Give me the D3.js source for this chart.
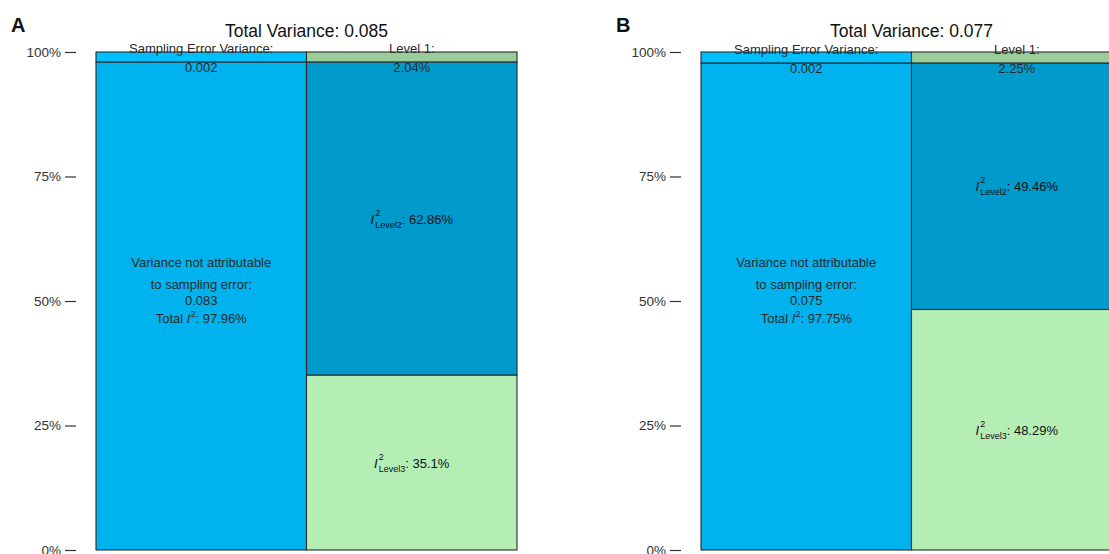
<!DOCTYPE html>
<html>
<head>
<meta charset="utf-8">
<script src="https://cdn.jsdelivr.net/npm/d3@7/dist/d3.min.js"></script>
<style>
  html, body { margin: 0; padding: 0; background: #fff; }
  svg { display: block; font-family: "Liberation Sans", Arial, sans-serif; }
</style>
</head>
<body>
<svg id="chart" width="1109" height="554"></svg>
<script>
// Variance distribution of two three-level meta-analytic models
const panels = ["A", "B"];
const totalVariance = [0.085, 0.077];
const samplingErrorVariance = [0.002, 0.002];
const notAttributableVariance = [0.083, 0.075];
const totalI2 = [97.96, 97.75];
const level1Pct = [2.04, 2.25];
const level2Pct = [62.86, 49.46];
const level3Pct = [35.1, 48.29];
const columns = ["left", "right"];
const yTicks = [0, 25, 50, 75, 100];

const colors = {
  sampling: "#00BFFF",
  notAttr: "#00B2EE",
  level1: "#9BCD9B",
  level2: "#009ACD",
  level3: "#B4EEB4"
};

const svg = d3.select("#chart");
const panelOffset = 605;

const y = d3.scaleLinear().domain([0, 100]).range([550, 52]);
const x = d3.scaleBand().domain(columns).range([96, 517]).paddingInner(0).paddingOuter(0);

panels.forEach((name, i) => {
  const g = svg.append("g").attr("transform", `translate(${i * panelOffset},0)`);

  // stacked segments, top to bottom
  const segments = [
    { col: "left", y0: totalI2[i], y1: 100, fill: colors.sampling },
    { col: "left", y0: 0, y1: totalI2[i], fill: colors.notAttr },
    { col: "right", y0: 100 - level1Pct[i], y1: 100, fill: colors.level1 },
    { col: "right", y0: level3Pct[i], y1: level3Pct[i] + level2Pct[i], fill: colors.level2 },
    { col: "right", y0: 0, y1: level3Pct[i], fill: colors.level3 }
  ];

  g.selectAll("rect.seg").data(segments).enter().append("rect")
    .attr("class", "seg")
    .attr("x", d => x(d.col))
    .attr("width", x.bandwidth())
    .attr("y", d => y(d.y1))
    .attr("height", d => y(d.y0) - y(d.y1))
    .attr("fill", d => d.fill)
    .attr("stroke", "#2b2b2b")
    .attr("stroke-width", 1.1);

  // y axis
  const axis = d3.axisLeft(y).tickValues(yTicks).tickSize(11).tickPadding(4)
    .tickFormat(d => d + "%");
  const ag = g.append("g").attr("transform", "translate(76,0)").call(axis);
  ag.select(".domain").remove();
  ag.selectAll(".tick line").attr("stroke", "#333").attr("stroke-width", 1.2);
  ag.selectAll(".tick text").attr("fill", "#333").attr("font-size", 13.5)
    .attr("font-family", "'Liberation Sans', Arial, sans-serif");

  // panel letter and title
  g.append("text").attr("x", 11).attr("y", 32)
    .attr("font-size", 20).attr("font-weight", "bold").attr("fill", "#111").text(name);
  g.append("text").attr("x", (x.range()[0] + x.range()[1]) / 2).attr("y", 37)
    .attr("text-anchor", "middle").attr("font-size", 17.5).attr("fill", "#111")
    .text(`Total Variance: ${totalVariance[i].toFixed(3)}`);

  const cxL = x("left") + x.bandwidth() / 2;
  const cxR = x("right") + x.bandwidth() / 2;
  const stripMid = (y(100) + y(totalI2[i])) / 2;
  const lab = (cx, yy, txt) => g.append("text").attr("x", cx).attr("y", yy)
    .attr("text-anchor", "middle").attr("font-size", 13).attr("fill", "#2a2a2a").text(txt);

  // top strip labels
  lab(cxL, stripMid - 4, "Sampling Error Variance:");
  lab(cxL, stripMid + 15, samplingErrorVariance[i].toFixed(3));
  lab(cxR, stripMid - 4, "Level 1:");
  lab(cxR, stripMid + 15, level1Pct[i] + "%");

  // left column body label
  const ym = y(50);
  lab(cxL, ym - 34, "Variance not attributable");
  lab(cxL, ym - 12, "to sampling error:");
  lab(cxL, ym + 4, notAttributableVariance[i].toFixed(3));
  const tI = g.append("text").attr("x", cxL).attr("y", ym + 22)
    .attr("text-anchor", "middle").attr("font-size", 13).attr("fill", "#2a2a2a");
  tI.append("tspan").text("Total ");
  tI.append("tspan").attr("font-style", "italic").text("I");
  tI.append("tspan").attr("font-size", 9).attr("dy", -6).text("2");
  tI.append("tspan").attr("dy", 6).text(": " + totalI2[i] + "%");

  // I² labels for level 2 and level 3
  const i2Label = (cy, sub, val) => {
    const t = g.append("text").attr("x", cxR).attr("y", cy + 5)
      .attr("text-anchor", "middle").attr("font-size", 13).attr("fill", "#111");
    t.append("tspan").attr("font-style", "italic").text("I");
    t.append("tspan").attr("font-size", 9).attr("dy", -8).attr("dx", 1).text("2");
    t.append("tspan").attr("font-size", 9).attr("dy", 12).attr("dx", -5).text(sub);
    t.append("tspan").attr("dy", -4).text(": " + val + "%");
  };
  i2Label((y(level3Pct[i] + level2Pct[i]) + y(level3Pct[i])) / 2, "Level2", level2Pct[i]);
  i2Label((y(level3Pct[i]) + y(0)) / 2, "Level3", level3Pct[i]);
});
</script>
</body>
</html>
